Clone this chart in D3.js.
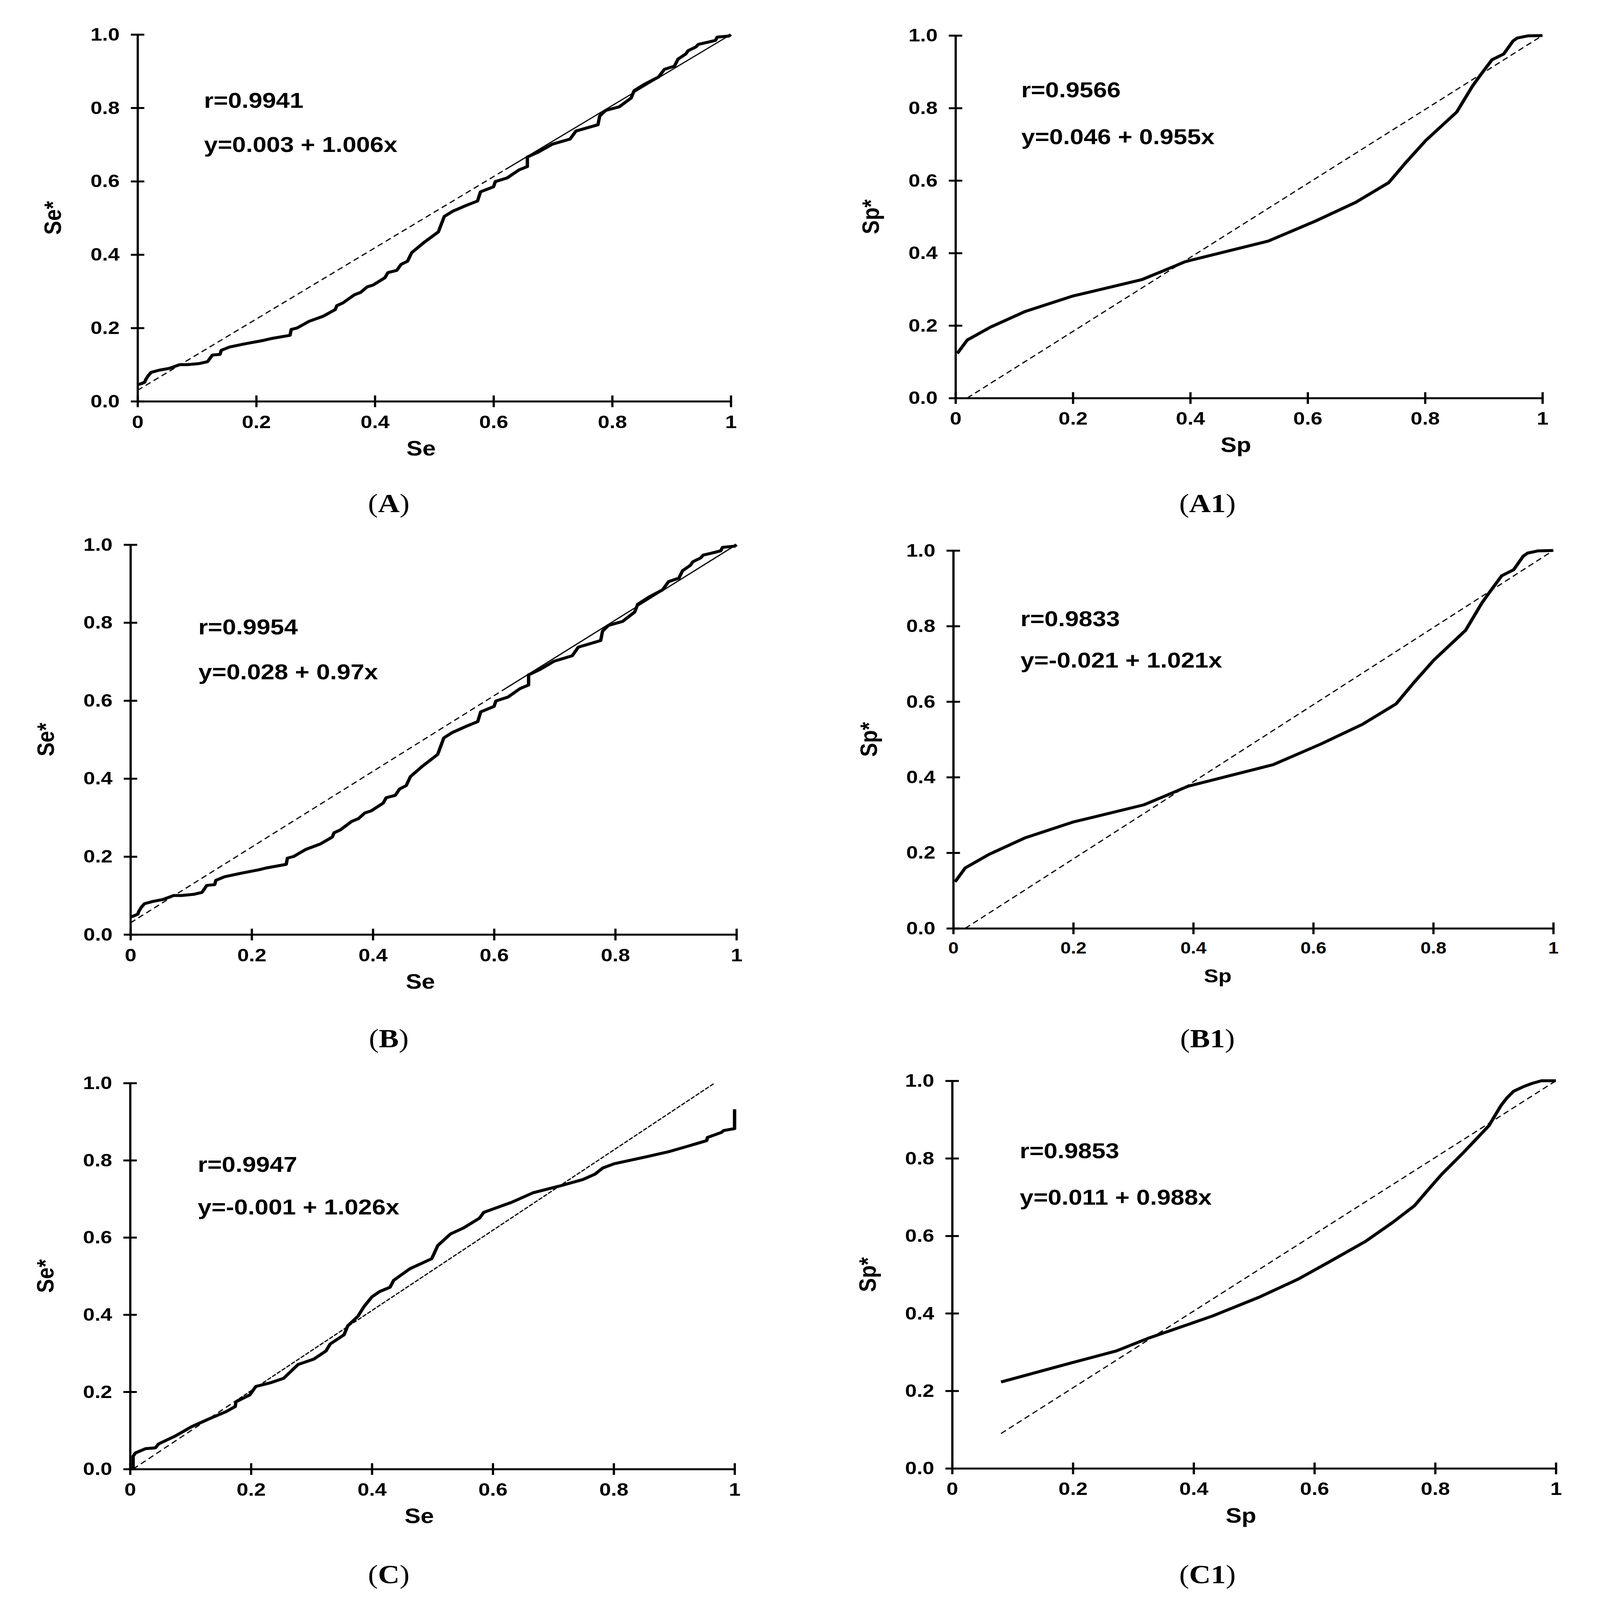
<!DOCTYPE html>
<html lang="en">
<head>
<meta charset="UTF-8">
<title>Se / Sp calibration plots</title>
<script src="https://d3js.org/d3.v7.min.js"></script>
<style>
  html, body { margin: 0; padding: 0; background: #fff; overflow: hidden; }
  #chart svg { display: block; width: 100vw; height: 100vh; }
  .axis text { font-family: "Liberation Sans", Arial, sans-serif; font-weight: bold; fill: #000; }
  .axis path, .axis line { stroke: #000; stroke-width: 6; }
  .title { font-family: "Liberation Sans", Arial, sans-serif; font-weight: bold; font-size: 64px; }
  .stat { font-family: "Liberation Sans", Arial, sans-serif; font-weight: bold; font-size: 66px; }
  .caption { font-family: "Liberation Serif", "Times New Roman", serif; font-size: 80px; }
  .curve { fill: none; stroke: #000; stroke-width: 9; stroke-linejoin: round; }
  .ref { fill: none; stroke: #000; stroke-width: 3.5; }
</style>
</head>
<body>
<div id="chart"></div>
<script>
// tick labels
const xTicks = [0, 0.2, 0.4, 0.6, 0.8, 1];
const yTicks = [0, 0.2, 0.4, 0.6, 0.8, 1];

// Se vs Se* (panels A and B show the same curve)
const seCurveAB = [[0,0.045],[0.006,0.048],[0.012,0.052],[0.014,0.060],[0.018,0.070],[0.023,0.079],[0.037,0.085],
  [0.054,0.090],[0.071,0.100],[0.084,0.100],[0.104,0.103],[0.118,0.108],[0.126,0.126],[0.139,0.128],[0.141,0.139],
  [0.155,0.148],[0.182,0.157],[0.212,0.166],[0.225,0.171],[0.257,0.180],[0.259,0.196],[0.269,0.200],[0.289,0.218],
  [0.313,0.232],[0.333,0.250],[0.336,0.261],[0.346,0.268],[0.365,0.290],[0.376,0.297],[0.387,0.312],[0.397,0.317],
  [0.417,0.337],[0.422,0.351],[0.437,0.357],[0.444,0.373],[0.455,0.382],[0.462,0.405],[0.482,0.432],[0.507,0.462],
  [0.512,0.483],[0.517,0.504],[0.531,0.518],[0.554,0.534],[0.573,0.546],[0.578,0.571],[0.600,0.585],[0.603,0.599],
  [0.623,0.609],[0.643,0.631],[0.657,0.640],[0.657,0.666],[0.676,0.680],[0.699,0.701],[0.729,0.715],[0.739,0.737],
  [0.776,0.754],[0.779,0.778],[0.789,0.793],[0.812,0.803],[0.832,0.827],[0.837,0.847],[0.855,0.865],[0.878,0.884],
  [0.888,0.905],[0.905,0.914],[0.911,0.933],[0.924,0.947],[0.928,0.956],[0.941,0.966],[0.945,0.973],[0.964,0.980],
  [0.974,0.984],[0.977,0.993],[0.997,0.996],[1,1]];
const seRefDashAB = [[0,0.03],[0.62,0.632]];
const seRefSolidAB = [[0.62,0.632],[1,1]];

const seCurveC = [[0.005,0],[0.005,0.033],[0.009,0.042],[0.026,0.053],[0.042,0.055],[0.047,0.065],[0.074,0.085],
  [0.102,0.110],[0.132,0.131],[0.159,0.149],[0.174,0.162],[0.175,0.174],[0.198,0.192],[0.208,0.214],[0.231,0.223],
  [0.254,0.235],[0.278,0.271],[0.304,0.285],[0.324,0.306],[0.331,0.324],[0.354,0.348],[0.360,0.371],[0.377,0.396],
  [0.387,0.421],[0.400,0.446],[0.413,0.460],[0.430,0.471],[0.436,0.489],[0.463,0.519],[0.499,0.545],[0.509,0.579],
  [0.530,0.609],[0.552,0.625],[0.578,0.650],[0.585,0.665],[0.631,0.691],[0.667,0.716],[0.710,0.733],[0.749,0.750],
  [0.769,0.764],[0.782,0.780],[0.801,0.791],[0.854,0.809],[0.893,0.823],[0.926,0.838],[0.954,0.851],[0.955,0.859],
  [0.978,0.872],[0.982,0.877],[1,0.882],[1,0.932]];
const seRefDashC = [[0.005,0],[0.18,0.182]];
const seRefFineC = [[0.18,0.182],[0.967,1]];

// Sp vs Sp* (panels A1 and B1 show the same curve)
const spCurveAB = [[0.003,0.123],[0.020,0.160],[0.060,0.196],[0.119,0.239],[0.199,0.281],[0.318,0.327],[0.360,0.355],
  [0.391,0.376],[0.533,0.433],[0.613,0.488],[0.682,0.540],[0.738,0.594],[0.768,0.651],[0.801,0.710],[0.854,0.789],
  [0.881,0.861],[0.894,0.890],[0.914,0.933],[0.934,0.949],[0.950,0.985],[0.957,0.993],[0.975,0.999],[1,1]];
const spRefAB = [[0.02,0],[1,1]];

const spCurveC = [[0.081,0.223],[0.197,0.272],[0.272,0.303],[0.327,0.337],[0.431,0.393],[0.509,0.442],[0.574,0.489],
  [0.626,0.534],[0.685,0.586],[0.730,0.635],[0.766,0.678],[0.789,0.720],[0.811,0.759],[0.847,0.815],[0.889,0.884],
  [0.909,0.936],[0.919,0.956],[0.930,0.973],[0.945,0.984],[0.960,0.993],[0.976,1.0],[1,1]];
const spRefC = [[0.081,0.09],[1,1]];

// fit statistics
const statsA = ["r=0.9941", "y=0.003 + 1.006x"];
const statsA1 = ["r=0.9566", "y=0.046 + 0.955x"];
const statsB = ["r=0.9954", "y=0.028 + 0.97x"];
const statsB1 = ["r=0.9833", "y=-0.021 + 1.021x"];
const statsC = ["r=0.9947", "y=-0.001 + 1.026x"];
const statsC1 = ["r=0.9853", "y=0.011 + 0.988x"];

const W = 4280, H = 4912;

const panels = [
  {cap: "A", box: [368, 1955, 106, 1232], capY: 1572, xt: "Se", yt: "Se*", curve: seCurveAB,
   refs: [[seRefDashAB, "16,10"], [seRefSolidAB, null]], stats: statsA, statY: [0.80, 0.68]},
  {cap: "A1", box: [2556, 4126, 109, 1222], capY: 1572, xt: "Sp", yt: "Sp*", curve: spCurveAB,
   refs: [[spRefAB, "16,10"]], stats: statsA1, statY: [0.83, 0.70]},
  {cap: "B", box: [349, 1970, 1672, 2869], capY: 3215, xt: "Se", yt: "Se*", curve: seCurveAB,
   refs: [[seRefDashAB, "16,10"], [seRefSolidAB, null]], stats: statsB, statY: [0.77, 0.655]},
  {cap: "B1", box: [2550, 4155, 1690, 2850], capY: 3215, xt: "Sp", yt: "Sp*", curve: spCurveAB,
   refs: [[spRefAB, "16,10"]], stats: statsB1, statY: [0.80, 0.69], xtShift: -95, tickFont: 50, titleFont: 58},
  {cap: "C", box: [348, 1965, 3325, 4510], capY: 4860, xt: "Se", yt: "Se*", curve: seCurveC,
   refs: [[seRefDashC, "16,10"], [seRefFineC, "12,4"]], stats: statsC, statY: [0.77, 0.66]},
  {cap: "C1", box: [2547, 4162, 3318, 4508], capY: 4860, xt: "Sp", yt: "Sp*", curve: spCurveC,
   refs: [[spRefC, "16,10"]], stats: statsC1, statY: [0.80, 0.68]}
];

// the drawing is laid out on a 4280 x 4912 grid and scaled to the window
const svg = d3.select("#chart").append("svg")
    .attr("viewBox", `0 0 ${W} ${H}`)
    .attr("preserveAspectRatio", "none")
    .style("background", "#fff");

panels.forEach(p => {
  const [x0, x1, y1, y0] = p.box;
  const x = d3.scaleLinear().domain([0, 1]).range([x0, x1]);
  const y = d3.scaleLinear().domain([0, 1]).range([y0, y1]);
  const tf = p.tickFont || 56;
  const g = svg.append("g");

  // axes, ticks crossing the axis line
  g.append("g")
      .attr("class", "axis")
      .attr("transform", `translate(0,${y0})`)
      .call(d3.axisBottom(x).tickValues(xTicks).tickSizeOuter(0).tickSizeInner(18).tickPadding(24)
        .tickFormat(d => d === 0 ? "0" : d === 1 ? "1" : d3.format(".1f")(d)))
      .call(a => a.selectAll(".tick line").attr("y1", -18).attr("y2", 18))
      .call(a => a.selectAll("text").style("font-size", tf + "px"));

  g.append("g")
      .attr("class", "axis")
      .attr("transform", `translate(${x0},0)`)
      .call(d3.axisLeft(y).tickValues(yTicks).tickSizeOuter(0).tickSizeInner(18).tickPadding(30)
        .tickFormat(d3.format(".1f")))
      .call(a => a.selectAll(".tick line").attr("x1", -18).attr("x2", 18))
      .call(a => a.selectAll("text").style("font-size", "56px"));
  g.selectAll(".axis .domain").attr("stroke-width", 6);

  // reference lines
  const line = d3.line().x(d => x(d[0])).y(d => y(d[1]));
  p.refs.forEach(([pts, dash]) => {
    g.append("path")
        .attr("class", "ref")
        .attr("d", line(pts))
        .attr("stroke-width", dash === "16,10" ? 3.5 : 3)
        .attr("stroke-dasharray", dash);
  });

  g.append("path")
      .attr("class", "curve")
      .attr("d", line(p.curve));

  // statistics text
  p.stats.forEach((s, i) => {
    g.append("text")
        .attr("class", "stat")
        .attr("x", x0 + 0.112 * (x1 - x0))
        .attr("y", y(p.statY[i]))
        .text(s);
  });

  // axis titles
  g.append("text")
      .attr("class", "title")
      .attr("x", (x0 + x1) / 2 + (p.xtShift || -35))
      .attr("y", y0 + 166)
      .attr("text-anchor", "middle")
      .style("font-size", p.titleFont ? p.titleFont + "px" : null)
      .text(p.xt);
  g.append("text")
      .attr("class", "title")
      .attr("transform", `translate(${x0 - 227},${(y0 + y1) / 2}) rotate(-90)`)
      .attr("dy", "0.35em")
      .attr("text-anchor", "middle")
      .text(p.yt);

  // panel caption
  const cap = g.append("text")
      .attr("class", "caption")
      .attr("x", p.cap.length > 1 ? 3230 : 1040)
      .attr("y", p.capY)
      .attr("text-anchor", "middle");
  cap.append("tspan").text("(");
  cap.append("tspan").attr("font-weight", "bold").text(p.cap);
  cap.append("tspan").text(")");
});
</script>
</body>
</html>
